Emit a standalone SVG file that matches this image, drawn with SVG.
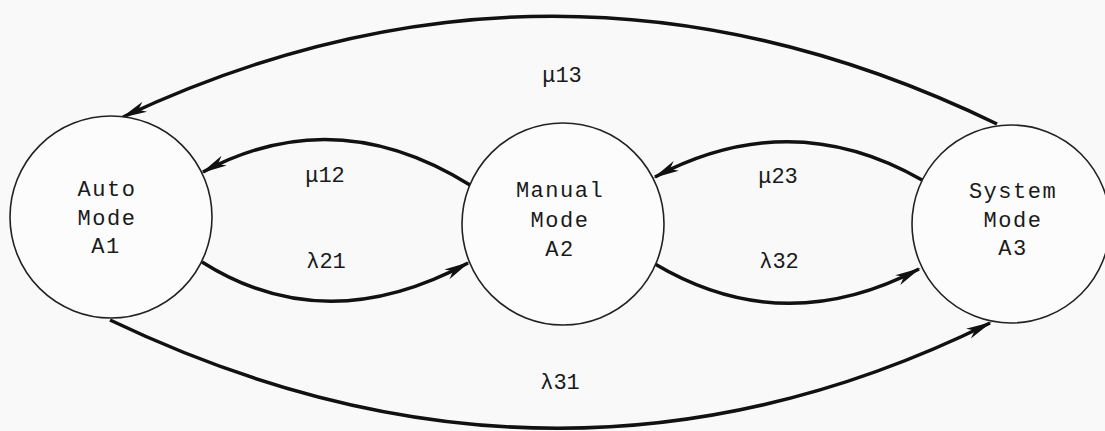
<svg xmlns="http://www.w3.org/2000/svg" width="1105" height="431" viewBox="0 0 1105 431">
<style>
.node{fill:#fcfcfc;stroke:#222;stroke-width:1.6}
.nt{font-family:"Liberation Mono","Courier New",monospace;font-size:22px;fill:#1a1a1a;text-anchor:middle;letter-spacing:1.5px}
.lbl{font-family:"Liberation Mono","Courier New",monospace;font-size:22px;fill:#1a1a1a;text-anchor:middle}
.arc{fill:none;stroke:#111;stroke-width:3.5;marker-end:url(#ah)}
</style>
<defs>
<marker id="ah" markerUnits="userSpaceOnUse" markerWidth="40" markerHeight="20" viewBox="-30 -10 40 20" refX="0" refY="0" orient="auto" overflow="visible">
<path d="M2,0 L-24,-5.5 L-17,0 L-24,5.5 Z" fill="#111"/>
</marker>
</defs>
<rect width="1105" height="431" fill="#f9f9f9"/>
<g id="connectors">
<path id="mu13" class="arc" d="M997,124 Q560,-88 123,117"/>
<path id="mu12" class="arc" d="M470,185 Q335,101 203,172"/>
<path id="mu23" class="arc" d="M922,180 Q791,105 655,177"/>
<path id="lambda21" class="arc" d="M202,262 Q325,340 468,263"/>
<path id="lambda32" class="arc" d="M655,264 Q783,340 919,269"/>
<path id="lambda31" class="arc" d="M110,320 Q560,535 990,323"/>
</g>
<g id="labels">
<text class="lbl" x="562" y="82">μ13</text>
<text class="lbl" x="325" y="182">μ12</text>
<text class="lbl" x="778" y="183">μ23</text>
<text class="lbl" x="326" y="268">λ21</text>
<text class="lbl" x="779" y="268">λ32</text>
<text class="lbl" x="560" y="389">λ31</text>
</g>
<g id="A1">
<circle class="node" cx="111" cy="217" r="101"/>
<text class="nt" x="107" y="196">Auto</text>
<text class="nt" x="107" y="225">Mode</text>
<text class="nt" x="106" y="253">A1</text>
</g>
<g id="A2">
<circle class="node" cx="563" cy="224" r="101"/>
<text class="nt" x="560" y="197">Manual</text>
<text class="nt" x="560" y="227">Mode</text>
<text class="nt" x="560" y="256">A2</text>
</g>
<g id="A3">
<circle class="node" cx="1011" cy="224" r="99"/>
<text class="nt" x="1013" y="198">System</text>
<text class="nt" x="1013" y="227">Mode</text>
<text class="nt" x="1013" y="255">A3</text>
</g>
</svg>
